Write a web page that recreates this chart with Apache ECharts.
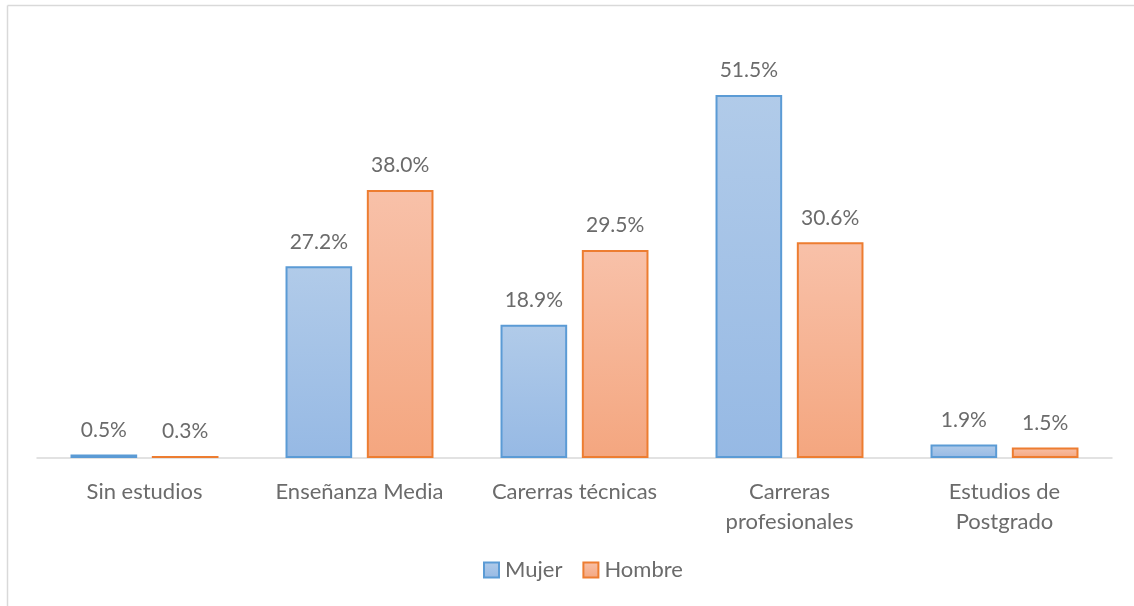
<!DOCTYPE html>
<html>
<head>
<meta charset="utf-8">
<script src="https://cdn.jsdelivr.net/npm/echarts@6/dist/echarts.min.js"></script>
<style>
  html, body { margin: 0; padding: 0; background: #fff; }
  #chart { width: 1134px; height: 606px; }
</style>
</head>
<body>
<div id="chart"></div>
<script>
// Nivel educacional por sexo (%)
const categories = ['Sin estudios', 'Enseñanza Media', 'Carerras técnicas', 'Carreras\nprofesionales', 'Estudios de\nPostgrado'];
const mujer = [0.5, 27.2, 18.9, 51.5, 1.9];
const hombre = [0.3, 38.0, 29.5, 30.6, 1.5];

const FONT = 'Lato, "Open Sans", sans-serif';
const TEXT = '#6b6b6b';

function grad(top, bottom) {
  return new echarts.graphic.LinearGradient(0, 0, 0, 1, [
    { offset: 0, color: top },
    { offset: 1, color: bottom }
  ]);
}

const labelCfg = {
  show: true,
  position: 'top',
  distance: 14,
  color: TEXT,
  fontFamily: FONT,
  fontSize: 21,
  formatter: p => p.value.toFixed(1) + '%'
};

const chart = echarts.init(document.getElementById('chart'), null, { renderer: 'canvas' });
chart.setOption({
  backgroundColor: '#fff',
  animation: false,
  graphic: [
    { type: 'line', shape: { x1: 7.5, y1: 5.5, x2: 1134, y2: 5.5 }, style: { stroke: '#d9d9d9', lineWidth: 1.5 } },
    { type: 'line', shape: { x1: 7.5, y1: 5.5, x2: 7.5, y2: 606 }, style: { stroke: '#d9d9d9', lineWidth: 1.5 } }
  ],
  grid: { left: 37, right: 22, top: 35, bottom: 148, containLabel: false },
  legend: {
    bottom: 20,
    left: 478,
    itemWidth: 15,
    itemHeight: 15,
    itemGap: 20,
    icon: 'rect',
    textStyle: { color: TEXT, fontFamily: FONT, fontSize: 22, padding: [0, 0, 0, 1] },
    data: ['Mujer', 'Hombre']
  },
  xAxis: {
    type: 'category',
    data: categories,
    axisLine: { show: true, lineStyle: { color: '#d9d9d9', width: 1.5 } },
    axisTick: { show: false },
    axisLabel: {
      color: TEXT,
      fontFamily: FONT,
      fontSize: 22,
      margin: 19,
      lineHeight: 30,
      interval: 0
    }
  },
  yAxis: {
    type: 'value',
    min: 0,
    max: 60,
    interval: 10,
    show: false,
    splitLine: { show: false }
  },
  series: [
    {
      name: 'Mujer',
      type: 'bar',
      data: mujer,
      barWidth: '31%',
      barGap: '22%',
      itemStyle: {
        color: grad('#b1cbe9', '#96b9e4'),
        borderColor: '#5b9bd5',
        borderWidth: 2
      },
      label: labelCfg
    },
    {
      name: 'Hombre',
      type: 'bar',
      data: hombre,
      barWidth: '31%',
      itemStyle: {
        color: grad('#f8c1a9', '#f4a67f'),
        borderColor: '#ed7d31',
        borderWidth: 2
      },
      label: labelCfg
    }
  ]
});
</script>
</body>
</html>
